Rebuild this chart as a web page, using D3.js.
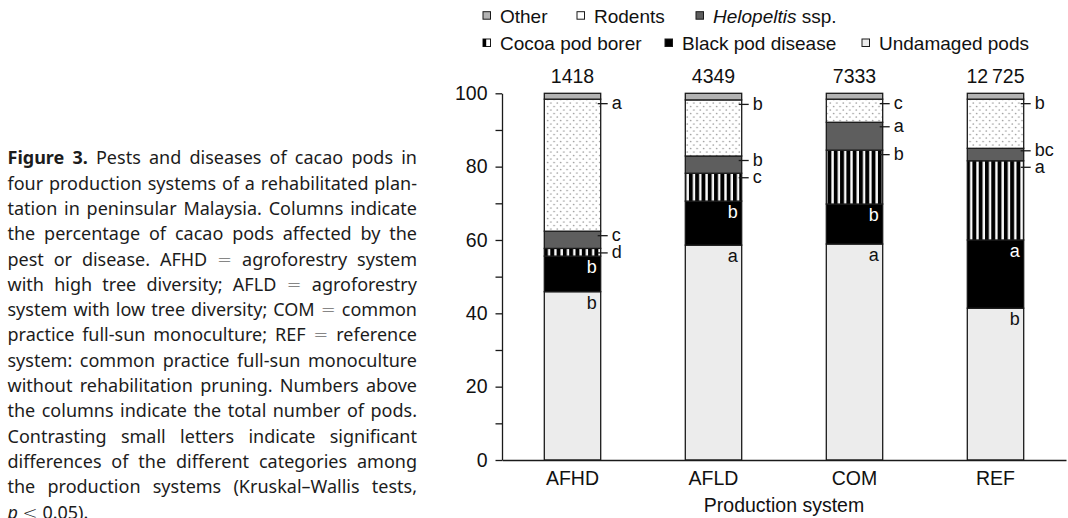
<!DOCTYPE html>
<html>
<head>
<meta charset="utf-8">
<script src="https://cdn.jsdelivr.net/npm/d3@7"></script>
<style>
  html, body { margin: 0; padding: 0; background: #fff; }
  svg { display: block; }
</style>
</head>
<body>
<svg id="fig" width="1068" height="518"></svg>
<script>
// Production systems and total pods counted in each
const systems = ["AFHD", "AFLD", "COM", "REF"];
const totalPods = ["1418", "4349", "7333", "12\u2009725"];

// Percentage of pods per category (stacked bottom to top)
const undamaged  = [45.9, 58.6, 58.9, 41.4];
const blackPod   = [9.7, 12.0, 10.9, 18.6];
const podBorer   = [2.1, 7.6, 14.7, 21.6];
const helopeltis = [4.7, 4.7, 7.6, 3.4];
const rodents    = [36.0, 15.3, 6.3, 13.4];
const other      = [1.6, 1.8, 1.6, 1.6];

// Kruskal–Wallis group letters per category
const undamagedLetters  = ["b", "a", "a", "b"];
const blackPodLetters   = ["b", "b", "b", "a"];
const podBorerLetters   = ["d", "c", "b", "a"];
const helopeltisLetters = ["c", "b", "a", "bc"];
const rodentsLetters    = ["a", "b", "c", "b"];

const yTicks = [0, 10, 20, 30, 40, 50, 60, 70, 80, 90, 100];
const yTickLabels = ["0", "", "20", "", "40", "", "60", "", "80", "", "100"];

const xTitle = "Production system";

const captionLines = [
  "Figure 3.  Pests and diseases of cacao pods in",
  "four production systems of a rehabilitated plan-",
  "tation in peninsular Malaysia. Columns indicate",
  "the percentage of cacao pods affected by the",
  "pest or disease. AFHD = agroforestry system",
  "with high tree diversity; AFLD = agroforestry",
  "system with low tree diversity; COM = common",
  "practice full-sun monoculture; REF = reference",
  "system: common practice full-sun monoculture",
  "without rehabilitation pruning. Numbers above",
  "the columns indicate the total number of pods.",
  "Contrasting small letters indicate significant",
  "differences of the different categories among",
  "the production systems (Kruskal\u2013Wallis tests,",
  "p < 0.05)."
];

// ---------------------------------------------------------------
const svg = d3.select("#fig");
const CHART_FONT = "'Liberation Sans', Arial, sans-serif";
const INK = "#1a1a1a";

// Fill patterns
const defs = svg.append("defs");
const stripes = defs.append("pattern")
  .attr("id", "stripes").attr("patternUnits", "userSpaceOnUse")
  .attr("width", 6.3).attr("height", 10).attr("x", 544);
stripes.append("rect").attr("width", 6.3).attr("height", 10).attr("fill", "#fafafa");
stripes.append("rect").attr("x", 0).attr("width", 3.9).attr("height", 10).attr("fill", "#000");

const dots = defs.append("pattern")
  .attr("id", "dots").attr("patternUnits", "userSpaceOnUse")
  .attr("width", 6.5).attr("height", 7);
dots.append("rect").attr("width", 6.5).attr("height", 7).attr("fill", "#fff");
dots.append("circle").attr("cx", 1.6).attr("cy", 1.5).attr("r", 0.85).attr("fill", "#a0a0a0");
dots.append("circle").attr("cx", 4.85).attr("cy", 5).attr("r", 0.85).attr("fill", "#a0a0a0");

const categories = [
  { key: "undamaged",  name: "Undamaged pods",    values: undamaged,  letters: undamagedLetters,  fill: "#ececec", inside: true,  ink: "#111" },
  { key: "blackPod",   name: "Black pod disease", values: blackPod,   letters: blackPodLetters,   fill: "#000",    inside: true,  ink: "#fff" },
  { key: "podBorer",   name: "Cocoa pod borer",   values: podBorer,   letters: podBorerLetters,   fill: "url(#stripes)" },
  { key: "helopeltis", name: "Helopeltis ssp.",   values: helopeltis, letters: helopeltisLetters, fill: "#5e5e5e" },
  { key: "rodents",    name: "Rodents",           values: rodents,    letters: rodentsLetters,    fill: "url(#dots)" },
  { key: "other",      name: "Other",             values: other,      letters: null,              fill: "#b3b3b3" }
];

const rows = systems.map((s, i) => {
  const r = { system: s };
  categories.forEach(c => { r[c.key] = c.values[i]; });
  return r;
});
const series = d3.stack().keys(categories.map(c => c.key))(rows);

// Scales
const x = d3.scaleBand().domain(systems).range([502, 1066]).paddingInner(0.6).paddingOuter(0.3);
const y = d3.scaleLinear().domain([0, 100]).range([460, 93.3]);

// Bars
const plot = svg.append("g");
series.forEach((s, ci) => {
  const cat = categories[ci];
  plot.append("g").selectAll("rect").data(s).join("rect")
    .attr("x", d => x(d.data.system))
    .attr("y", d => y(d[1]))
    .attr("width", x.bandwidth())
    .attr("height", d => y(d[0]) - y(d[1]))
    .attr("fill", cat.fill)
    .attr("stroke", INK).attr("stroke-width", 1.3);
});

// Group letters: inside letters sit at the top-right of their segment,
// outside letters hang from a short leader and are spread apart when crowded
const letterG = plot.append("g").attr("font-family", CHART_FONT).attr("font-size", 18);
systems.forEach((sys, i) => {
  const right = x(sys) + x.bandwidth();
  const outside = [];
  series.forEach((s, ci) => {
    const cat = categories[ci];
    if (!cat.letters) return;
    const top = y(s[i][1]);
    if (cat.inside) {
      letterG.append("text").attr("x", right - 4).attr("y", top + 17)
        .attr("text-anchor", "end").attr("fill", cat.ink).text(cat.letters[i]);
    } else {
      outside.push({ ty: top + 4.5, label: cat.letters[i] });
    }
  });
  outside.sort((a, b) => a.ty - b.ty);
  const minGap = 16.5;
  for (let k = 1; k < outside.length; k++) {
    const gap = outside[k].ty - outside[k - 1].ty;
    if (gap < minGap) {
      const push = (minGap - gap) / 2;
      outside[k - 1].ty -= push;
      outside[k].ty += push;
    }
  }
  outside.forEach(o => {
    letterG.append("line").attr("x1", right - 3).attr("x2", right + 7)
      .attr("y1", o.ty).attr("y2", o.ty).attr("stroke", INK).attr("stroke-width", 1.3);
    letterG.append("text").attr("x", right + 11).attr("y", o.ty).attr("dy", "0.3em")
      .attr("fill", "#111").text(o.label);
  });
});

// Totals above columns
svg.append("g").attr("font-family", CHART_FONT).attr("font-size", 19.5).attr("fill", "#111")
  .selectAll("text").data(systems).join("text")
  .attr("x", d => x(d) + x.bandwidth() / 2)
  .attr("y", 82.7)
  .attr("text-anchor", "middle")
  .text((d, i) => totalPods[i]);

// Axes
const yAxis = d3.axisLeft(y).tickValues(yTicks)
  .tickFormat((d, i) => yTickLabels[i]).tickSize(6.5).tickPadding(8).tickSizeOuter(0);
const gy = svg.append("g").attr("transform", "translate(502,0)").call(yAxis);
gy.selectAll("text").attr("font-family", CHART_FONT).attr("font-size", 19.5).attr("fill", "#111");
gy.selectAll("line").attr("stroke", INK).attr("stroke-width", 1.3);
gy.select(".domain").attr("stroke", INK).attr("stroke-width", 1.3);

const xAxis = d3.axisBottom(x).tickSize(0).tickPadding(11).tickSizeOuter(0);
const gx = svg.append("g").attr("transform", "translate(0,460)").call(xAxis);
gx.selectAll("text").attr("font-family", CHART_FONT).attr("font-size", 19.5).attr("fill", "#111");
gx.select(".domain").attr("stroke", INK).attr("stroke-width", 1.3);

svg.append("text").attr("x", (x.range()[0] + x.range()[1]) / 2).attr("y", 512)
  .attr("text-anchor", "middle").attr("font-family", CHART_FONT).attr("font-size", 19.5)
  .attr("fill", "#111").text(xTitle);

// Legend
const legendLayout = [
  { key: "other",      x: 483, row: 0 },
  { key: "rodents",    x: 577, row: 0 },
  { key: "helopeltis", x: 696, row: 0 },
  { key: "podBorer",   x: 483, row: 1 },
  { key: "blackPod",   x: 665, row: 1 },
  { key: "undamaged",  x: 862, row: 1 }
];
const rowBase = [22.7, 50];
const legend = svg.append("g").attr("font-family", CHART_FONT).attr("font-size", 19).attr("fill", "#111");
legendLayout.forEach(item => {
  const cat = categories.find(c => c.key === item.key);
  const by = rowBase[item.row];
  const sq = 7.5;
  const sy = by - 11;
  if (item.key === "podBorer") {
    legend.append("rect").attr("x", item.x).attr("y", sy).attr("width", sq).attr("height", sq)
      .attr("fill", "#fff").attr("stroke", INK).attr("stroke-width", 1);
    legend.append("rect").attr("x", item.x).attr("y", sy).attr("width", 3.2).attr("height", sq).attr("fill", "#000");
  } else {
    legend.append("rect").attr("x", item.x).attr("y", sy).attr("width", sq).attr("height", sq)
      .attr("fill", item.key === "rodents" ? "#fff" : cat.fill)
      .attr("stroke", INK).attr("stroke-width", 1);
  }
  const t = legend.append("text").attr("x", item.x + 17).attr("y", by);
  if (item.key === "helopeltis") {
    t.append("tspan").attr("font-style", "italic").text("Helopeltis");
    t.append("tspan").text(" ssp.");
  } else {
    t.text(cat.name);
  }
});

// Caption, justified to a fixed block width; relation signs use a math-style glyph
const CAP_FONT = "'Noto Sans', 'Open Sans', sans-serif";
const capLeft = 7.5, capRight = 417, capTop = 164.3, capLead = 25.3, capSize = 18;
const cap = svg.append("g").attr("font-family", CAP_FONT).attr("font-size", capSize).attr("fill", "#1c1c1c");
captionLines.forEach((line, li) => {
  const words = line.split(/\s+/);
  const by = capTop + li * capLead;
  const nodes = words.map((w, wi) => {
    const t = cap.append("text").attr("y", by).text(w);
    if (li === 0 && wi < 2) t.attr("font-weight", "bold");
    if (li === captionLines.length - 1 && w === "p") t.attr("font-style", "italic");
    if (w === "=" || w === "<") t.attr("font-family", "'DejaVu Sans', sans-serif").attr("font-weight", 300);
    return t;
  });
  const widths = nodes.map(n => n.node().getComputedTextLength());
  const total = d3.sum(widths);
  const last = li === captionLines.length - 1;
  const gap = last ? capSize * 0.26 : (capRight - capLeft - total) / (words.length - 1);
  let cx = capLeft;
  nodes.forEach((n, i) => { n.attr("x", cx); cx += widths[i] + gap; });
});
</script>
</body>
</html>
